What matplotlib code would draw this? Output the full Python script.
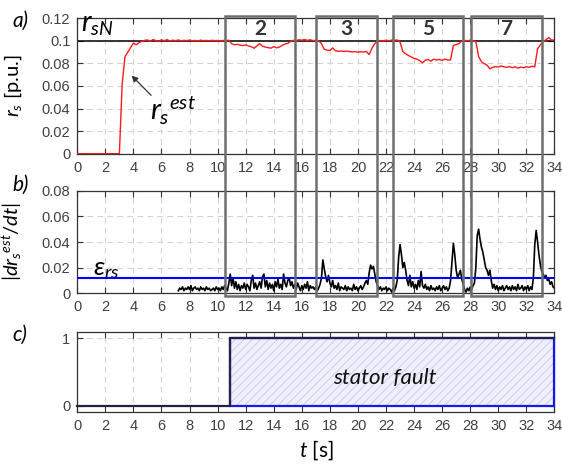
import numpy as np
import matplotlib
matplotlib.use("Agg")
import matplotlib.pyplot as plt
from matplotlib.patches import Rectangle
from matplotlib.transforms import blended_transform_factory

plt.rcParams['font.family'] = ['Liberation Sans', 'DejaVu Sans']
plt.rcParams['mathtext.fontset'] = 'custom'
plt.rcParams['mathtext.rm'] = 'Lato'
plt.rcParams['mathtext.it'] = 'Lato:italic'
plt.rcParams['mathtext.bf'] = 'Lato:bold'
plt.rcParams['hatch.linewidth'] = 0.6

# ---- data ----
# estimated stator resistance, sampled every 0.2 s from 0 to 34 s
rs_time = np.round(np.arange(0, 171) * 0.2, 1)
rs_est = [
    0, 0, 0, 0, 0, 0, 0, 0, 0, 0, 0, 0, 0, 0, 0,            # 0.0 - 2.8
    0.0, 0.062, 0.086, 0.090, 0.094, 0.098, 0.0965, 0.0985, 0.0995, 0.1005,  # 3.0 - 4.8
    0.1008, 0.0996, 0.1012, 0.1002, 0.0994, 0.1010, 0.1001, 0.1011, 0.0998, 0.1006,  # 5.0 - 6.8
    0.1002, 0.1008, 0.1000, 0.1005, 0.1002, 0.1007, 0.1001, 0.1004, 0.1000, 0.1006,  # 7.0 - 8.8
    0.1002, 0.1004, 0.1001, 0.1005, 0.1002, 0.1003, 0.1000, 0.1004, 0.1001, 0.1006,  # 9.0 - 10.8
    0.0975, 0.0965, 0.0970, 0.0962, 0.0958, 0.0965, 0.0955, 0.0948, 0.0935, 0.0955,  # 11.0 - 12.8
    0.0975, 0.0952, 0.0945, 0.0940, 0.0935, 0.0950, 0.0938, 0.0945, 0.0960, 0.0972,  # 13.0 - 14.8
    0.0978, 0.0995, 0.1005, 0.1002, 0.1010, 0.1006, 0.1012, 0.1004, 0.1010, 0.1002,  # 15.0 - 16.8
    0.1005, 0.1000, 0.0975, 0.0925, 0.0918, 0.0915, 0.0938, 0.0912, 0.0908, 0.0910,  # 17.0 - 18.8
    0.0906, 0.0909, 0.0905, 0.0902, 0.0905, 0.0900, 0.0904, 0.0901, 0.0906, 0.0878,  # 19.0 - 20.8
    0.0935, 0.0975, 0.1000, 0.1003, 0.1000, 0.1006, 0.1001, 0.1007, 0.1005, 0.1008,  # 21.0 - 22.8
    0.0990, 0.0905, 0.0885, 0.0870, 0.0858, 0.0845, 0.0838, 0.0825, 0.0805, 0.0828,  # 23.0 - 24.8
    0.0835, 0.0820, 0.0838, 0.0830, 0.0835, 0.0828, 0.0838, 0.0830, 0.0832, 0.0960,  # 25.0 - 26.8
    0.0968, 0.0975, 0.1000, 0.1004, 0.1000, 0.1006, 0.1002, 0.0995, 0.0860, 0.0815,  # 27.0 - 28.8
    0.0798, 0.0785, 0.0752, 0.0765, 0.0772, 0.0768, 0.0778, 0.0770, 0.0765, 0.0772,  # 29.0 - 30.8
    0.0762, 0.0770, 0.0758, 0.0768, 0.0762, 0.0770, 0.0765, 0.0775, 0.0770, 0.0930,  # 31.0 - 32.8
    0.0965, 0.0995, 0.1010, 0.1030, 0.1005, 0.1010,                                  # 33.0 - 34.0
]
rs_nominal = 0.1

# |d rs_est / dt|, sampled every 0.1 s from 7.2 to 34 s
dr_time = np.arange(72, 341) / 10
dr_abs = [
    0.002, 0.004, 0.003, 0.005, 0.002, 0.004, 0.003, 0.005,                      # 7.2 - 7.9
    0.003, 0.006, 0.002, 0.004, 0.005, 0.003, 0.004, 0.002, 0.005, 0.003,        # 8
    0.004, 0.002, 0.005, 0.003, 0.004, 0.002, 0.003, 0.004, 0.002, 0.005,        # 9
    0.003, 0.004, 0.002, 0.005, 0.003, 0.006, 0.004, 0.002, 0.008, 0.015,        # 10
    0.006, 0.012, 0.004, 0.009, 0.003, 0.007, 0.002, 0.006, 0.004, 0.008,        # 11
    0.003, 0.007, 0.005, 0.002, 0.010, 0.014, 0.004, 0.008, 0.003, 0.006,        # 12
    0.009, 0.004, 0.013, 0.015, 0.005, 0.010, 0.003, 0.008, 0.004, 0.007,        # 13
    0.002, 0.009, 0.005, 0.011, 0.004, 0.007, 0.003, 0.015, 0.008, 0.005,        # 14
    0.010, 0.012, 0.006, 0.009, 0.004, 0.007, 0.003, 0.008, 0.005, 0.002,        # 15
    0.006, 0.003, 0.007, 0.004, 0.009, 0.002, 0.006, 0.004, 0.005, 0.003,        # 16
    0.005, 0.002, 0.004, 0.007, 0.012, 0.026, 0.019, 0.013, 0.009, 0.014,        # 17
    0.008, 0.005, 0.010, 0.004, 0.006, 0.003, 0.008, 0.002, 0.005, 0.004,        # 18
    0.003, 0.006, 0.002, 0.005, 0.003, 0.004, 0.002, 0.007, 0.003, 0.005,        # 19
    0.002, 0.004, 0.006, 0.003, 0.005, 0.008, 0.010, 0.007, 0.016, 0.022,        # 20
    0.019, 0.021, 0.015, 0.009, 0.006, 0.003, 0.005, 0.002, 0.004, 0.003,        # 21
    0.005, 0.002, 0.004, 0.003, 0.001, 0.004, 0.002, 0.005, 0.010, 0.028,        # 22
    0.038, 0.030, 0.020, 0.024, 0.018, 0.010, 0.006, 0.014, 0.005, 0.009,        # 23
    0.004, 0.007, 0.003, 0.010, 0.005, 0.017, 0.006, 0.004, 0.007, 0.003,        # 24
    0.005, 0.002, 0.006, 0.003, 0.004, 0.002, 0.005, 0.003, 0.006, 0.002,        # 25
    0.004, 0.006, 0.003, 0.005, 0.002, 0.004, 0.010, 0.025, 0.039, 0.030,        # 26
    0.018, 0.012, 0.015, 0.018, 0.011, 0.007, 0.003, 0.001, 0.004, 0.002,        # 27
    0.005, 0.003, 0.006, 0.008, 0.020, 0.045, 0.050, 0.042, 0.036, 0.032,        # 28
    0.026, 0.020, 0.018, 0.014, 0.018, 0.010, 0.004, 0.007, 0.003, 0.006,        # 29
    0.002, 0.005, 0.003, 0.006, 0.002, 0.004, 0.006, 0.003, 0.005, 0.002,        # 30
    0.006, 0.003, 0.005, 0.002, 0.007, 0.003, 0.004, 0.006, 0.002, 0.005,        # 31
    0.003, 0.006, 0.002, 0.005, 0.003, 0.012, 0.038, 0.049, 0.040, 0.030,        # 32
    0.022, 0.017, 0.015, 0.012, 0.014, 0.010, 0.011, 0.007, 0.009, 0.005,        # 33
    0.004,                                                                       # 34.0
]
eps_rs = 0.012

# fault flag
fault_start = 10.9
t_end = 34
fault_time = [0, fault_start, fault_start, t_end]
fault_flag = [0, 0, 1, 1]

# highlighted intervals (number of shorted turns)
box_labels = ["2", "3", "5", "7"]
box_ranges = [(10.52, 15.51), (16.98, 21.36), (22.49, 27.52), (28.09, 33.12)]

x_ticks = list(range(0, 35, 2))
a_ticks = [0, 0.02, 0.04, 0.06, 0.08, 0.1, 0.12]
a_ticklabels = ["0", "0.02", "0.04", "0.06", "0.08", "0.1", "0.12"]
b_ticks = [0, 0.02, 0.04, 0.06, 0.08]
b_ticklabels = ["0", "0.02", "0.04", "0.06", "0.08"]

# ---- figure ----
fig = plt.figure(figsize=(5.62, 4.68), dpi=100)
ax_a = fig.add_axes([0.1375, 0.6716, 0.8490, 0.2893])
ax_b = fig.add_axes([0.1375, 0.3733, 0.8490, 0.2192])
ax_c = fig.add_axes([0.1375, 0.1203, 0.8490, 0.1709])

tick_col = "#404040"
for ax in (ax_a, ax_b, ax_c):
    ax.set_xlim(0, 34)
    ax.set_xticks(x_ticks)
    ax.tick_params(direction="in", top=True, right=True, length=4, width=0.8,
                   labelsize=10.5, labelcolor=tick_col, color="#333333", pad=5)
    ax.grid(True, linestyle=(0, (5, 4)), color="#d4d4d4", linewidth=0.8)
    ax.set_axisbelow(True)
    for s in ax.spines.values():
        s.set_color("#333333")
        s.set_linewidth(0.9)

# a) rs estimate
ax_a.plot(rs_time, rs_est, color="#ff1a1a", lw=1.0, zorder=3)
ax_a.axhline(rs_nominal, color="black", lw=1.1, zorder=2)
ax_a.set_ylim(0, 0.12)
ax_a.set_yticks(a_ticks)
ax_a.set_yticklabels(a_ticklabels)
ax_a.set_ylabel(r"$r_s$ [p.u.]", fontsize=14.5, family="Lato")
ax_a.yaxis.set_label_coords(-0.112, 0.5)
ax_a.text(0.25, 0.1025, r"$r_{sN}$", fontsize=20, va="bottom", ha="left")
ax_a.annotate("", xy=(3.73, 0.071), xytext=(5.4, 0.050),
              arrowprops=dict(arrowstyle="-|>", color="#333333", lw=0.9,
                              mutation_scale=9))
ax_a.text(5.2, 0.030, r"$r_s{}^{est}$", fontsize=21, va="baseline", ha="left")
for lab, (x0, x1) in zip(box_labels, box_ranges):
    ax_a.text((x0 + x1) / 2, 0.1105, lab, fontsize=15, fontweight="bold",
              family="Lato", color="#333333", ha="center", va="center")

# b) derivative
ax_b.plot(dr_time, dr_abs, color="black", lw=1.2, zorder=3)
ax_b.axhline(eps_rs, color="#0000ff", lw=1.5, zorder=4)
ax_b.set_ylim(0, 0.08)
ax_b.set_yticks(b_ticks)
ax_b.set_yticklabels(b_ticklabels)
ax_b.set_ylabel(r"$|dr_s{}^{est}/dt|$", fontsize=14.5)
ax_b.yaxis.set_label_coords(-0.112, 0.5)
ax_b.text(1.1, 0.0145, r"$\varepsilon_{rs}$", fontsize=19, va="baseline", ha="left")

# c) fault flag
ax_c.fill_between([fault_start, t_end], 0, 1, facecolor="#f0f0fd",
                  edgecolor="#c8c8f0", hatch="////", linewidth=0, zorder=2)
ax_c.add_patch(Rectangle((fault_start, 0), t_end - fault_start, 1, fill=False,
                         edgecolor="#1a1ae6", lw=1.6, zorder=3, clip_on=False))
ax_c.plot(fault_time, fault_flag, color="#222244", lw=1.6, zorder=4, clip_on=False)
ax_c.set_ylim(-0.085, 1.1)
ax_c.set_yticks([0, 1])
ax_c.set_xlabel(r"$t$ [s]", fontsize=15, family="Lato", labelpad=4)
ax_c.text(21.9, 0.42, "stator fault", fontsize=16, style="italic",
          family="Lato", ha="center", va="center", color="#111111")

# boxes spanning panels a and b
trans = blended_transform_factory(ax_a.transData, fig.transFigure)
for x0, x1 in box_ranges:
    fig.patches.append(Rectangle((x0, 0.3675), x1 - x0, 0.9658 - 0.3675,
                                 transform=trans, fill=False,
                                 edgecolor="#6e6e6e", lw=1.8, zorder=10))

# panel letters
for lab, yy in (("a)", 1 - 21 / 468), ("b)", 1 - 185 / 468), ("c)", 1 - 335 / 468)):
    fig.text(0.022, yy, lab, fontsize=15, style="italic", family="Lato",
             va="center", ha="left")

fig.savefig("out.png", dpi=100)
